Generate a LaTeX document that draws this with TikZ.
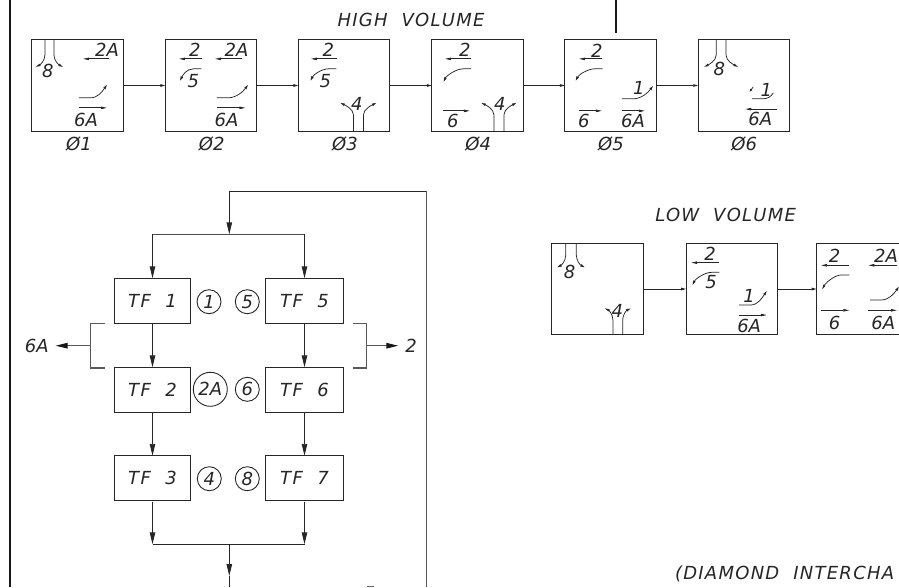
\documentclass[tikz,border=0pt]{standalone}
\usepackage{fontspec}
\setmainfont{DejaVu Sans}
\usetikzlibrary{arrows.meta,calc}
\newcount\lblc
\newcommand\lbl[3]{\global\advance\lblc by 1 \node[lab] (L\the\lblc) at (#1,#2) {#3};}
\newcommand\arrH[3]{\draw[mv,-{Triangle[length=6pt,width=2.4pt]}] (#1,#3) -- (#2,#3);}
\newcommand\turnL[4]{\draw[mv,-{Triangle[length=4.5pt,width=2.4pt]}] (#1,#2) -- ++(-8,0) .. controls +(-7,0) and ($(#3,#4)+(3,-6)$) .. (#3,#4);}
\newcommand\turnR[4]{\draw[mv,-{Triangle[length=4.5pt,width=2.4pt]}] (#1,#2) -- ++(11,0) .. controls +(8,0) and ($(#3,#4)+(-5,7)$) .. (#3,#4);}
\newcommand\apprN[4]{\draw[mv,-{Triangle[length=4.5pt,width=2.4pt]}] (#1,0) -- (#1,#3) .. controls +(0,6) and ($(#1-#4,#3+12)+(4,-2)$) .. (#1-#4,#3+12);
 \draw[mv,-{Triangle[length=4.5pt,width=2.4pt]}] (#2,0) -- (#2,#3) .. controls +(0,6) and ($(#2+#4,#3+12)+(-4,-2)$) .. (#2+#4,#3+12);}
\newcommand\apprS[4]{\draw[mv,-{Triangle[length=4.5pt,width=2.4pt]}] (#1,91.3) -- (#1,#3) .. controls +(0,-6) and ($(#1-#4,#3-12)+(4,2)$) .. (#1-#4,#3-12);
 \draw[mv,-{Triangle[length=4.5pt,width=2.4pt]}] (#2,91.3) -- (#2,#3) .. controls +(0,-6) and ($(#2+#4,#3-12)+(-4,2)$) .. (#2+#4,#3-12);}
\tikzset{
 x=1pt,y=-1pt,
 frame/.style={draw,line width=1pt,minimum width=91.5pt,minimum height=91.3pt,inner sep=0pt,outer sep=0pt},
 tfbox/.style={draw,line width=1pt,minimum height=45pt,inner sep=0pt,outer sep=0pt,font=\tfnt},
 lab/.style={inner sep=0pt,outer sep=0pt,font=\lfnt},
 head/.style={inner sep=0pt,outer sep=0pt,font=\hfnt},
 flow/.style={-{Triangle[length=12pt,width=5.5pt]},line width=0.9pt},
 link/.style={-{Triangle[length=5pt,width=2.5pt]},line width=0.9pt},
 mv/.style={line width=0.75pt},
 brk/.style={line width=1.1pt,black!65},
 brktip/.style={-{Triangle[length=12pt,width=5.5pt,black!90]}},
 circ/.style={draw,circle,inner sep=0pt,minimum size=24pt,line width=0.9pt,outer sep=0pt,font=\lfnt},
 heavy/.style={line width=2.6pt,black!90},
}
\newcommand\lfnt{\itshape\fontsize{18}{18}\selectfont}
\newcommand\tfnt{\itshape\fontsize{18}{18}\selectfont\addfontfeature{LetterSpace=8}}
\newcommand\hfnt{\itshape\fontsize{18}{18}\selectfont\addfontfeature{LetterSpace=7}}
\begin{document}
\begin{tikzpicture}[color=black!85]
\useasboundingbox (0,0) rectangle (899,587);
\coordinate (bl0) at (10,0); \coordinate (bl1) at (10,587);
\coordinate (tick0) at (616,0); \coordinate (tick1) at (616,33);
\draw[heavy] (bl0) -- (bl1);
\draw[heavy] (tick0) -- (tick1);
\node[head] (hv) at (411,20) {HIGH\ \ VOLUME};
\foreach \n/\cx in {a/77.7,b/211.2,c/344.2,d/477.7,e/610.7,f/744}{\node[frame] (\n) at (\cx,85.5) {};}
\foreach \p/\q in {a/b,b/c,c/d,d/e,e/f}{\draw[link] (\p.east) -- (\q.west);}
\foreach \t/\cx in {Ø1/79,Ø2/211.7,Ø3/345,Ø4/478.3,Ø5/611,Ø6/744.3}{\lbl{\cx}{144}{\t}}
% frame a
\begin{scope}[shift={(a.north west)}]
\apprN{13}{22}{15}{9}
\lbl{16}{31}{8}
\arrH{77}{51}{19}\lbl{75}{10}{2A}
\turnR{47}{58}{75}{45}
\arrH{47}{75}{68}\lbl{54}{80}{6A}
\end{scope}
% frame b
\begin{scope}[shift={(b.north west)}]
\arrH{36.5}{13.5}{19}\lbl{29.5}{10}{2}
\arrH{76.5}{49.5}{19}\lbl{71}{10}{2A}
\turnL{36}{29}{14.5}{41}\lbl{28}{41}{5}
\turnR{51.5}{58}{82.5}{45}
\arrH{51.5}{80}{68}\lbl{61}{80}{6A}
\end{scope}
% frame c
\begin{scope}[shift={(c.north west)}]
\arrH{38.4}{12.4}{19}\lbl{30}{10}{2}
\turnL{38}{29}{12}{41}\lbl{27}{41}{5}
\apprS{55}{65}{75}{13}\lbl{58.5}{64}{4}
\end{scope}
% frame d
\begin{scope}[shift={(d.north west)}]
\arrH{39}{13}{19}\lbl{33}{10}{2}
\turnL{39}{29}{11.5}{42}
\arrH{11}{38}{71}\lbl{21}{81}{6}
\apprS{62}{72}{75}{12.5}\lbl{68}{64}{4}
\end{scope}
% frame e
\begin{scope}[shift={(e.north west)}]
\arrH{37}{14}{19}\lbl{32}{11}{2}
\turnL{37.7}{29}{10.7}{41}
\arrH{14}{37}{71}\lbl{19}{81}{6}
\turnR{57}{59}{88}{46}\lbl{74}{48}{1}
\arrH{57}{80}{71}\lbl{68}{81}{6A}
\end{scope}
% frame f
\begin{scope}[shift={(f.north west)}]
\apprN{18}{27.7}{15}{12}
\lbl{21}{29.5}{8}
\draw[mv] (53.7,59) -- (64,59) .. controls (69,59) and (73,57) .. (75,53);
\draw[mv,-{Triangle[length=3pt,width=2.2pt]}] (55,47) -- (51.3,52);
\lbl{68}{50}{1}
\arrH{78.7}{47}{69.3}\lbl{62}{79}{6A}
\end{scope}
% low volume
\node[head] (lv) at (725.7,215) {LOW\ \ VOLUME};
\node[frame] (g) at (597.7,289) {};
\node[frame] (h) at (731.9,289) {};
\coordinate (iw) at (816.7,289);
\coordinate (i1) at (899,243.3);\coordinate (i2) at (816.7,243.3);\coordinate (i3) at (816.7,334.7);\coordinate (i4) at (899,334.7);
\draw[line width=1pt] (i1) -- (i2) -- (i3) -- (i4);
\draw[link] (g.east) -- (h.west);
\draw[link] (h.east) -- (iw);
\begin{scope}[shift={(g.north west)}]
\apprN{13.7}{24.4}{12}{8.5}
\lbl{17.7}{28.4}{8}
\apprS{61}{70.7}{77}{8}
\lbl{65.4}{67.4}{4}
\end{scope}
\begin{scope}[shift={(h.north west)}]
\arrH{33.3}{5}{19.3}\lbl{24}{10.7}{2}
\turnL{33.3}{29}{6.3}{41.7}\lbl{25}{39}{5}
\turnR{53}{61.7}{80.7}{47.7}\lbl{63}{53}{1}
\arrH{53}{80.7}{71.7}\lbl{63}{83}{6A}
\end{scope}
\begin{scope}[shift={(i2)}]
\arrH{32.6}{4.3}{22}\lbl{18}{12.7}{2}
\arrH{80.6}{51.6}{22}\lbl{69.3}{12.7}{2A}
\turnL{32.6}{31.7}{5.6}{46}
\turnR{53.3}{56.7}{82.3}{43.3}
\arrH{4.3}{32.6}{67}\lbl{18}{79.4}{6}
\arrH{51.6}{80.3}{67}\lbl{66.6}{79.4}{6A}
\end{scope}
% signal flow
\node[tfbox,minimum width=76.4pt] (tf1) at (152.5,300.8) {TF\ \ 1};
\node[tfbox,minimum width=76.4pt] (tf2) at (152.5,389.8) {TF\ \ 2};
\node[tfbox,minimum width=76.4pt] (tf3) at (152.5,478.3) {TF\ \ 3};
\node[tfbox,minimum width=78pt] (tf5) at (304.5,300.8) {TF\ \ 5};
\node[tfbox,minimum width=78pt] (tf6) at (304.5,389.8) {TF\ \ 6};
\node[tfbox,minimum width=78pt] (tf7) at (304.5,478.3) {TF\ \ 7};
\node[circ] (c1) at (209,301.7) {1};
\node[circ] (c5) at (247.3,301.7) {5};
\node[circ,minimum size=34pt] (c2a) at (210.3,389.3) {2A};
\node[circ] (c6) at (247.3,389.3) {6};
\node[circ] (c4) at (209.3,478.7) {4};
\node[circ] (c8) at (247.3,478.7) {8};
\draw[flow] (tf1) -- (tf2);
\draw[flow] (tf5) -- (tf6);
\draw[flow] (tf2) -- (tf3);
\draw[flow] (tf6) -- (tf7);
\coordinate (split) at (229.3,234.3);
\coordinate (sl) at (tf1 |- split);
\coordinate (sr) at (tf5 |- split);
\coordinate (merge) at (229.3,544.3);
\coordinate (ml) at (tf3 |- merge);
\coordinate (mr) at (tf7 |- merge);
\coordinate (looptl) at (229.3,191.3);
\coordinate (looptr) at (426,191.3);
\coordinate (loopb) at (426,587);
\coordinate (outb) at (229.3,576);
\coordinate (outb2) at (229.3,587);
\draw[line width=0.9pt,black!65] (loopb) -- (looptr);
\draw[line width=0.9pt] (looptr) -- (looptl);
\draw[flow] (looptl) -- (split);
\draw[line width=1.1pt,black!70] (sl) -- (sr);
\draw[flow] (sl) -- (tf1);
\draw[flow] (sr) -- (tf5);
\draw[flow,shorten <=1.5pt] (tf3) -- (ml);
\draw[flow,shorten <=1.5pt] (tf7) -- (mr);
\draw[line width=1.1pt] (ml) -- (mr);
\draw[flow] (merge) -- (outb);
\draw[line width=0.9pt] (outb) -- (outb2);
\coordinate (fr0) at (367,586.4); \coordinate (fr1) at (374,586.4);
\draw[line width=0.8pt,black!60] (fr0) -- (fr1);
% brackets
\coordinate (bl) at (90.7,345.7);
\coordinate (br) at (366.3,345.7);
\coordinate (b1) at (105,323.3);\coordinate (b2) at (90.7,323.3);\coordinate (b3) at (90.7,368);\coordinate (b4) at (105,368);
\coordinate (b5) at (352.7,323.3);\coordinate (b6) at (366.3,323.3);\coordinate (b7) at (366.3,368);\coordinate (b8) at (352.7,368);
\draw[brk] (b1) -- (b2) -- (b3) -- (b4);
\draw[brk] (b5) -- (b6) -- (b7) -- (b8);
\node[lab] (l6a) at (36.7,346) {6A};
\node[lab] (l2) at (411,346) {2};
\draw[brk,brktip,shorten >=7pt] (bl) -- (l6a.east |- bl);
\draw[brk,brktip,shorten >=7pt] (br) -- (l2.west |- br);
\node[head,anchor=west] (dia) at (675,574) {(DIAMOND\ \ INTERCHA};
\end{tikzpicture}
\end{document}
